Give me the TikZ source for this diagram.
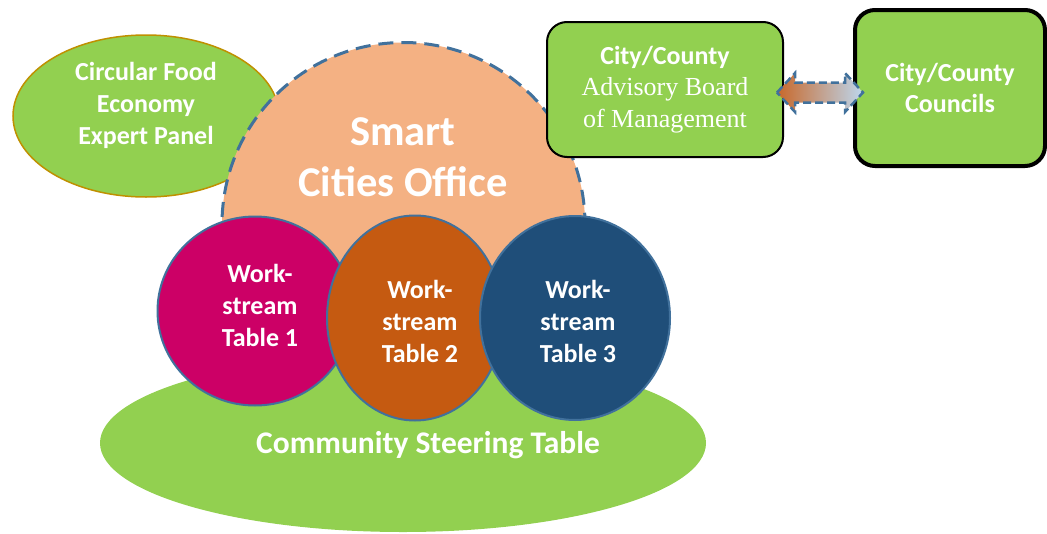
\documentclass[tikz,border=0pt]{standalone}
\usepackage{fontspec}
\setmainfont{Carlito}
\newfontfamily\serifnm{Liberation Serif}
\usetikzlibrary{shapes.geometric,calc}
\definecolor{lgreen}{HTML}{92D050}
\definecolor{peach}{HTML}{F4B183}
\definecolor{wpink}{HTML}{CC0066}
\definecolor{worange}{HTML}{C55A11}
\definecolor{wnavy}{HTML}{1F4E79}
\definecolor{steel}{HTML}{41719C}
\definecolor{gold}{HTML}{BF9000}
\definecolor{arrL}{HTML}{C8682A}
\definecolor{arrR}{HTML}{BDD7EE}
\tikzset{
  lbl/.style={text=white,font=\bfseries\fontsize{26}{32}\selectfont,align=center,inner sep=0pt},
  wcircle/.style={ellipse,draw=steel,line width=2pt,inner sep=0pt,outer sep=0pt},
  gbox/.style={rectangle,rounded corners=20pt,fill=lgreen,draw=black,inner sep=0pt,outer sep=0pt,text=white,align=center},
}
\begin{document}
\begin{tikzpicture}[x=1pt,y=-1pt]
\useasboundingbox (0,0) rectangle (1047,533);
% expert panel
\node[ellipse,fill=lgreen,draw=gold,line width=1.5pt,minimum width=266pt,minimum height=162pt,inner sep=0pt] (exp) at (146,116) {};
\node[lbl] (expt) at (146,105) {Circular Food\\Economy\\Expert Panel};
% community
\node[ellipse,fill=lgreen,minimum width=606pt,minimum height=178pt,inner sep=0pt] (comm) at (403,443) {};
\node[lbl,font=\bfseries\fontsize{31.5}{36}\selectfont] (commt) at (428,445) {Community Steering Table};
% dome
\fill[peach] (222,300) -- (222,224) arc[start angle=180,end angle=360,radius=181.5] -- (585,300) -- cycle;
\draw[steel,line width=3pt,dash pattern=on 15pt off 8pt] (222,240) -- (222,224) arc[start angle=180,end angle=360,radius=181.5] -- (585,240);
\node[lbl,font=\bfseries\fontsize{42.5}{51}\selectfont] (smart) at (403,157) {Smart\\Cities Office};
% workstreams
\node[wcircle,fill=wpink,minimum width=195pt,minimum height=189pt] (w1) at (255,311) {};
\node[lbl] (w1t) at (260,305) {Work-\\stream\\Table 1};
\node[wcircle,fill=worange,minimum width=176pt,minimum height=205pt] (w2) at (415,318) {};
\node[lbl] (w2t) at (420,321) {Work-\\stream\\Table 2};
\node[wcircle,fill=wnavy,minimum width=190pt,minimum height=204pt] (w3) at (575,318) {};
\node[lbl] (w3t) at (578,321) {Work-\\stream\\Table 3};
% boxes
\node[gbox,line width=2pt,minimum width=236pt,minimum height=135pt,font=\fontsize{26}{31.5}\selectfont] (adv) at (665,89.5)
  {{\bfseries City/County}\\{\serifnm Advisory Board}\\{\serifnm of Management}};
\node[gbox,line width=4pt,minimum width=190pt,minimum height=156pt,font=\bfseries\fontsize{26}{31}\selectfont] (cc) at (950,88)
  {City/County\\Councils};
% double arrow
\coordinate (L) at ($(adv.east)+(-6,3)$);
\coordinate (R) at ($(cc.west)+(8,4.5)$);
\path[left color=arrL,right color=arrR,draw=steel,line width=2.5pt,dash pattern=on 8pt off 4pt,line join=miter]
  (L) -- ($(L)+(18,-19.5)$) -- ($(L)+(18,-10)$) -- ($(R)+(-18,-10)$) -- ($(R)+(-18,-19.5)$) -- (R)
  -- ($(R)+(-18,19.5)$) -- ($(R)+(-18,10)$) -- ($(L)+(18,10)$) -- ($(L)+(18,19.5)$) -- cycle;
\end{tikzpicture}
\end{document}
